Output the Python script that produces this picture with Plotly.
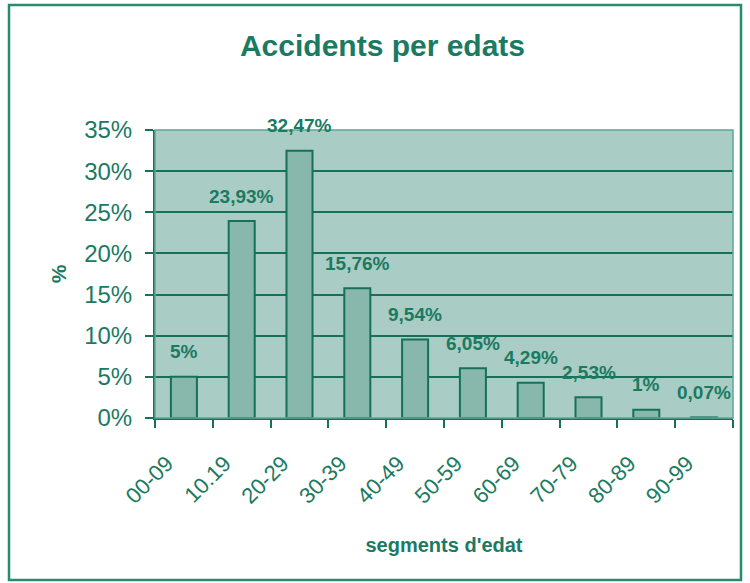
import plotly.graph_objects as go

categories = ["00-09", "10.19", "20-29", "30-39", "40-49", "50-59", "60-69", "70-79", "80-89", "90-99"]
values = [5, 23.93, 32.47, 15.76, 9.54, 6.05, 4.29, 2.53, 1, 0.07]
labels = ["5%", "23,93%", "32,47%", "15,76%", "9,54%", "6,05%", "4,29%", "2,53%", "1%", "0,07%"]
yticks = [0, 5, 10, 15, 20, 25, 30, 35]
yticklabels = ["0%", "5%", "10%", "15%", "20%", "25%", "30%", "35%"]

DARK = "#16705a"
TEXT = "#1b7a62"
FONT = "Arial, Liberation Sans"

fig = go.Figure()
fig.add_trace(go.Bar(
    x=categories, y=values, width=0.45,
    marker=dict(color="#88b8ac", line=dict(color=DARK, width=2)),
    hoverinfo="skip",
))

for i, (v, t) in enumerate(zip(values, labels)):
    fig.add_annotation(x=i, y=v, text=t, showarrow=False, yshift=25,
                       font=dict(family=FONT, size=19, color=TEXT, weight="bold"))

fig.update_layout(
    width=750, height=583,
    margin=dict(l=155, r=17, t=130, b=165, autoexpand=False),
    paper_bgcolor="white",
    plot_bgcolor="#a9ccc4",
    showlegend=False,
    title=dict(text="Accidents per edats", x=0.51, xanchor="center", y=0.922, yanchor="middle",
               font=dict(family=FONT, size=30, color=TEXT, weight="bold")),
)

fig.update_yaxes(
    range=[0, 35], tickvals=yticks, ticktext=yticklabels,
    showgrid=True, gridcolor=DARK, gridwidth=2,
    showline=True, linecolor=DARK, linewidth=2,
    ticks="outside", ticklen=8, tickcolor=DARK, tickwidth=2,
    ticklabelstandoff=8,
    tickfont=dict(family=FONT, size=24, color=TEXT),
    title=dict(text="%", standoff=12, font=dict(family=FONT, size=21, color=TEXT, weight="bold")),
    zeroline=False, automargin=False,
)
fig.update_xaxes(
    type="category", range=[-0.5, 9.5],
    tickangle=-45, tickson="boundaries",
    showline=True, linecolor=DARK, linewidth=2,
    ticks="outside", ticklen=8, tickcolor=DARK, tickwidth=2,
    ticklabelstandoff=22, ticklabelshift=-17,
    tickfont=dict(family=FONT, size=22, color=TEXT),
    title=dict(text="segments d'edat", standoff=30, font=dict(family=FONT, size=20, color=TEXT, weight="bold")),
    automargin=False,
)

# plot area light border
fig.add_shape(type="rect", xref="paper", yref="paper", x0=0, x1=1, y0=0, y1=1,
              line=dict(color="#5fa593", width=1.5), layer="above")
# outer chart border
fig.add_shape(type="rect", xref="paper", yref="paper",
              x0=(9 - 155) / 578, x1=(741 - 155) / 578, y0=-162 / 288, y1=1 + 125 / 288,
              line=dict(color="#2a8a70", width=2.5))

fig.write_html("out.html", config={"displayModeBar": False},
               post_script="document.body.style.margin='0';")
